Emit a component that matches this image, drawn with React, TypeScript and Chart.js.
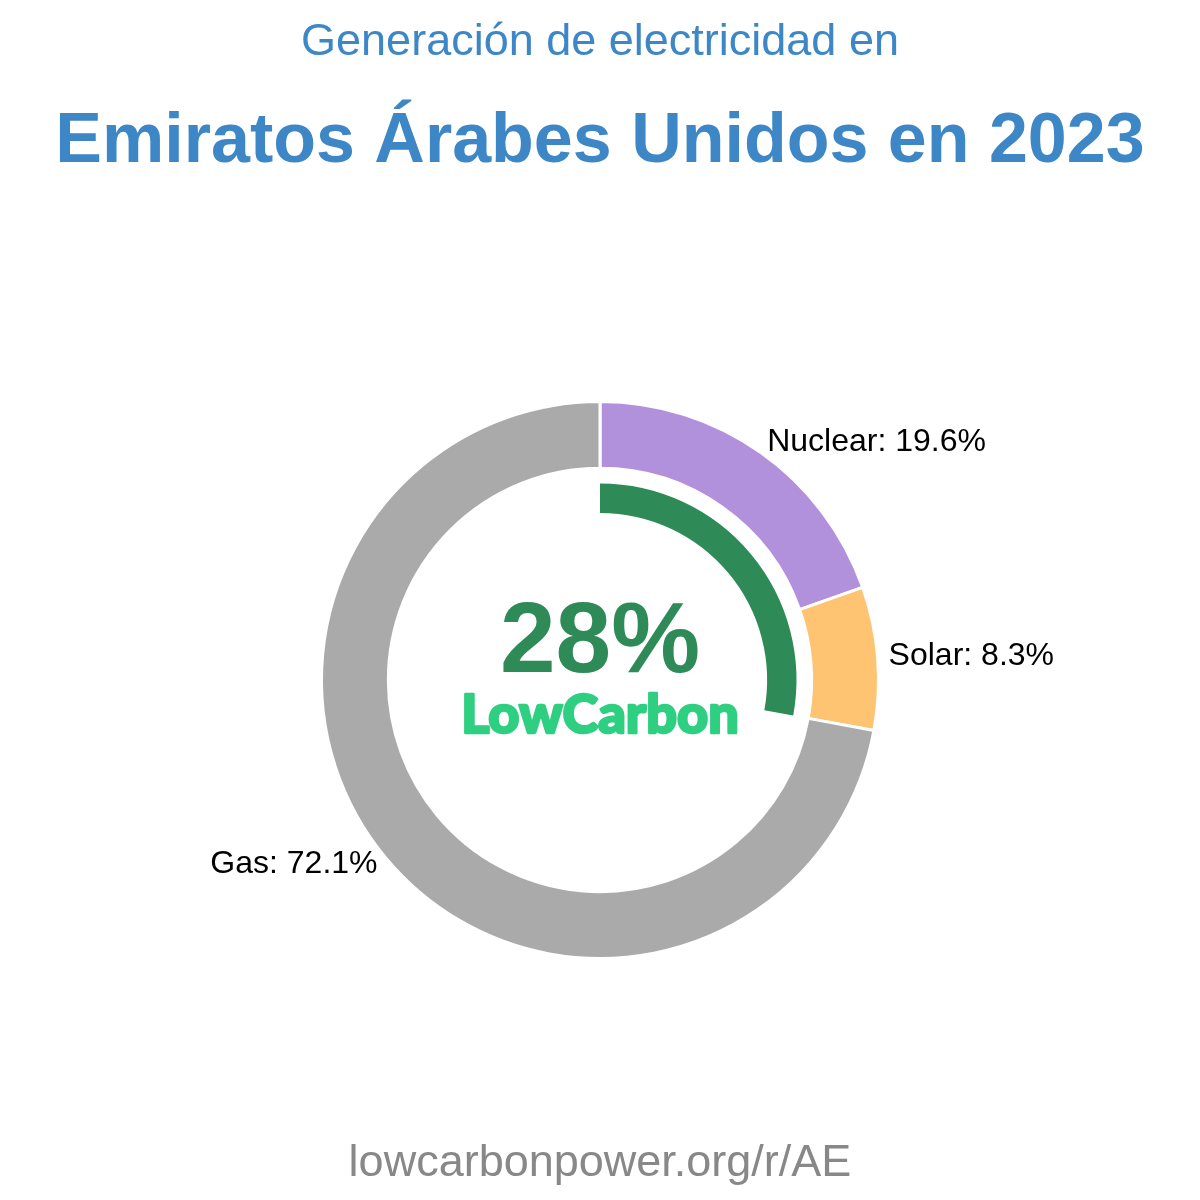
import React, { useEffect, useRef } from "react";
import { Chart, registerables } from "chart.js";

Chart.register(...registerables);

const titleTop = "Generación de electricidad en";
const titleMain = "Emiratos Árabes Unidos en 2023";
const footer = "lowcarbonpower.org/r/AE";
const categories = ["Nuclear", "Solar", "Gas"];
const shares = [19.6, 8.3, 72.1];
const colors = ["#b291dc", "#fec471", "#aaaaaa"];
const lowCarbonShare = [27.9, 72.1];
const lowCarbonLabel = "28%";
const brand = "LowCarbon";

export default function App() {
  const ref = useRef<HTMLCanvasElement | null>(null);
  useEffect(() => {
    if (!ref.current) return;
    const textPlugin = {
      id: "texts",
      afterDraw(chart: any) {
        const ctx = chart.ctx as CanvasRenderingContext2D;
        ctx.save();
        ctx.textAlign = "center";
        ctx.textBaseline = "alphabetic";
        ctx.fillStyle = "#3d87c6";
        ctx.font = "45px 'Liberation Sans', Arial, sans-serif";
        ctx.fillText(titleTop, 600, 55);
        ctx.font = "bold 70px 'Liberation Sans', Arial, sans-serif";
        ctx.fillText(titleMain, 600, 162);
        ctx.fillStyle = "#888888";
        ctx.font = "45px 'Liberation Sans', Arial, sans-serif";
        ctx.fillText(footer, 600, 1176);

        const meta = chart.getDatasetMeta(0);
        const arcs = meta.data;
        ctx.fillStyle = "#000";
        ctx.font = "32px 'Liberation Sans', Arial, sans-serif";
        ctx.textBaseline = "middle";
        arcs.forEach((arc: any, i: number) => {
          const mid = (arc.startAngle + arc.endAngle) / 2;
          const r = arc.outerRadius + 11;
          const x = arc.x + Math.cos(mid) * r;
          const y = arc.y + Math.sin(mid) * r;
          ctx.textAlign = Math.cos(mid) >= 0 ? "left" : "right";
          ctx.fillText(`${categories[i]}: ${shares[i].toFixed(1)}%`, x, y - 1);
        });
        const cx = arcs[0].x;
        const cy = arcs[0].y;
        ctx.textAlign = "center";
        ctx.textBaseline = "alphabetic";
        ctx.fillStyle = "#2e8b57";
        ctx.font = "bold 100px 'Liberation Sans', Arial, sans-serif";
        ctx.fillText(lowCarbonLabel, cx, cy - 8);
        ctx.fillStyle = "#2ecf80";
        ctx.strokeStyle = "#2ecf80";
        ctx.lineWidth = 2.5;
        ctx.lineJoin = "round";
        ctx.font = "900 54px Lato, sans-serif";
        ctx.strokeText(brand, cx, cy + 53);
        ctx.fillText(brand, cx, cy + 53);
        ctx.restore();
      },
    };
    const chart = new Chart(ref.current, {
      type: "doughnut",
      data: {
        labels: categories,
        datasets: [
          {
            data: shares,
            backgroundColor: colors,
            borderColor: "#ffffff",
            borderWidth: 3,
            weight: 66,
          } as any,
          {
            data: [100],
            backgroundColor: ["rgba(0,0,0,0)"],
            borderWidth: 0,
            weight: 15,
          } as any,
          {
            data: lowCarbonShare,
            backgroundColor: ["#2e8b57", "rgba(0,0,0,0)"],
            borderWidth: 0,
            weight: 29,
          } as any,
        ],
      },
      options: {
        responsive: false,
        animation: false,
        cutout: "60%",
        layout: { padding: { top: 400, bottom: 240, left: 0, right: 0 } },
        plugins: {
          legend: { display: false },
          tooltip: { enabled: false },
          title: { display: false },
        },
      } as any,
      plugins: [textPlugin],
    });
    return () => chart.destroy();
  }, []);
  return (
    <div style={{ position: "absolute", left: 0, top: 0, width: 1200, height: 1200, background: "#fff" }}>
      <canvas ref={ref} width={1200} height={1200} />
    </div>
  );
}
